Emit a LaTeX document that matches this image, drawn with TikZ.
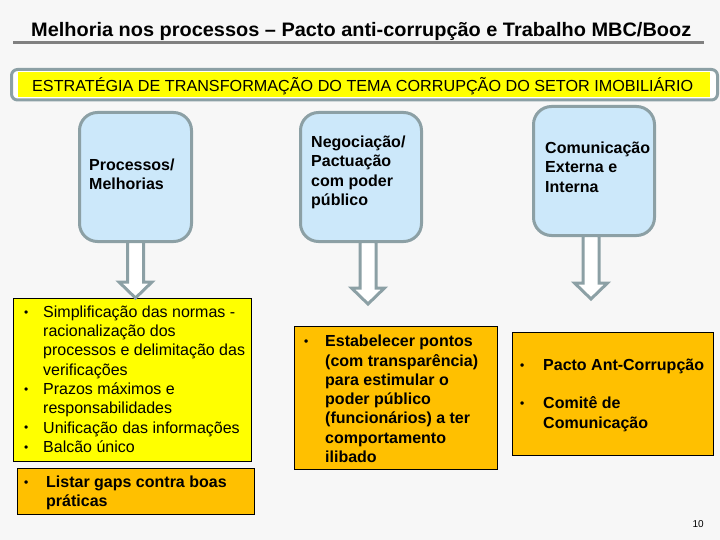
\documentclass[tikz,border=0pt]{standalone}
\usepackage{fontspec}
\setmainfont{Liberation Sans}
\usetikzlibrary{calc}
\definecolor{bg}{HTML}{F7F7F7}
\definecolor{boxblue}{HTML}{CCE8FA}
\definecolor{edgegray}{HTML}{8CA0A5}
\definecolor{linegray}{HTML}{808080}
\definecolor{brightyellow}{HTML}{FFFF00}
\definecolor{orangefill}{HTML}{FFC000}
\newcommand\fl{\rule{0pt}{15pt}}
\newcommand\bul[1]{\llap{\makebox[#1][l]{\raisebox{1.2pt}{\scalebox{0.75}{\textbullet}}}}}
\newcommand\blockarr[2]{%
  \draw[arrowline] let \p1=(#1), \p2=(#2) in
    (\x1-8pt,\y1) -- (\x1+8pt,\y1) -- (\x1+8pt,\y2+16pt) -- (\x1+16.5pt,\y2+16pt)
    -- (\x1,\y2) -- (\x1-16.5pt,\y2+16pt) -- (\x1-8pt,\y2+16pt) -- cycle;}
\tikzset{
  bluebox/.style={draw=edgegray, line width=3pt, fill=boxblue, rounded corners=18pt, minimum height=129pt, inner sep=0pt},
  listbox/.style={draw=black, line width=0.9pt, inner sep=0pt},
  arrowline/.style={draw=edgegray, line width=3pt, fill=white, line join=miter},
  txt/.style={anchor=north west, inner sep=0pt, align=left, font=\fontsize{16}{19.3}\selectfont},
  btxt/.style={txt, font=\fontsize{16}{19.3}\selectfont\bfseries},
}
\begin{document}
\begin{tikzpicture}[x=1pt,y=-1pt]
\fill[bg] (0,0) rectangle (720,540);
\useasboundingbox (0,0) rectangle (720,540);
% title
\node[anchor=base west, inner sep=0pt] (title) at (31,37)
  {\resizebox{660pt}{\height}{\fontsize{19.5}{22}\selectfont\bfseries Melhoria nos processos – Pacto anti-corrupção e Trabalho MBC/Booz}};
\coordinate (ulL) at (13,43);
\coordinate (ulR) at (704,43);
\draw[linegray, line width=3pt] (ulL) -- (ulR);
% banner
\node[draw=edgegray, line width=3pt, fill=white, rounded corners=6pt, minimum width=706pt, minimum height=30.5pt, inner sep=0pt] (banner) at (364.5,84.75) {};
\node[fill=brightyellow, minimum width=692pt, minimum height=25pt, inner sep=0pt] (bannerfill) at (364,84.5) {};
\node[anchor=base west, inner sep=0pt] (bannertext) at (32,92)
  {\resizebox{661pt}{\height}{\fontsize{16}{19}\selectfont ESTRATÉGIA DE TRANSFORMAÇÃO DO TEMA CORRUPÇÃO DO SETOR IMOBILIÁRIO}};
% blue boxes
\node[bluebox, minimum width=112pt] (b1) at (135.5,177) {};
\node[bluebox, minimum width=121pt] (b2) at (361,177) {};
\node[bluebox, minimum width=121pt] (b3) at (594,171) {};
\node[btxt] (b1t) at (89,170.5-15) {\fl Processos/\\Melhorias};
\node[btxt] (b2t) at (311,147.5-15) {\fl Negociação/\\Pactuação\\com poder\\público};
\node[btxt] (b3t) at (545,153.5-15) {\fl Comunicação\\Externa e\\Interna};
% lower boxes
\node[listbox, fill=brightyellow, minimum width=238pt, minimum height=163pt] (y1) at (132,379.5) {};
\node[listbox, fill=orangefill, minimum width=237pt, minimum height=46pt] (o1) at (135.5,491) {};
\node[listbox, fill=orangefill, minimum width=203pt, minimum height=143pt] (o2) at (395.5,397.5) {};
\node[listbox, fill=orangefill, minimum width=201pt, minimum height=123pt] (o3) at (612.5,393.5) {};
\node[txt] (y1t) at (43,317-15) {\fl\bul{19pt}Simplificação das normas -\\racionalização dos\\processos e delimitação das\\verificações\\\bul{19pt}Prazos máximos e\\responsabilidades\\\bul{19pt}Unificação das informações\\\bul{19pt}Balcão único};
\node[btxt] (o1t) at (46,487-15) {\fl\bul{22pt}Listar gaps contra boas\\práticas};
\node[btxt] (o2t) at (325,346.5-15) {\fl\bul{21pt}Estabelecer pontos\\(com transparência)\\para estimular o\\poder público\\(funcionários) a ter\\comportamento\\ilibado};
\node[btxt] (o3t) at (543,370-15) {\fl\bul{23pt}Pacto Ant-Corrupção\\[19.3pt]\bul{23pt}Comitê de\\Comunicação};
% arrows
\coordinate (a1s) at ([yshift=1.5pt]b1.south);
\coordinate (a1e) at (135,298);
\coordinate (a2s) at ([xshift=7pt,yshift=1.5pt]b2.south);
\coordinate (a2e) at (368,304);
\coordinate (a3s) at ([xshift=-3pt,yshift=1.5pt]b3.south);
\coordinate (a3e) at (591,299);
\blockarr{a1s}{a1e}
\blockarr{a2s}{a2e}
\blockarr{a3s}{a3e}
% page number
\node[anchor=base east, inner sep=0pt, font=\fontsize{10}{12}\selectfont] (pagenum) at (704,527) {10};
\end{tikzpicture}
\end{document}
